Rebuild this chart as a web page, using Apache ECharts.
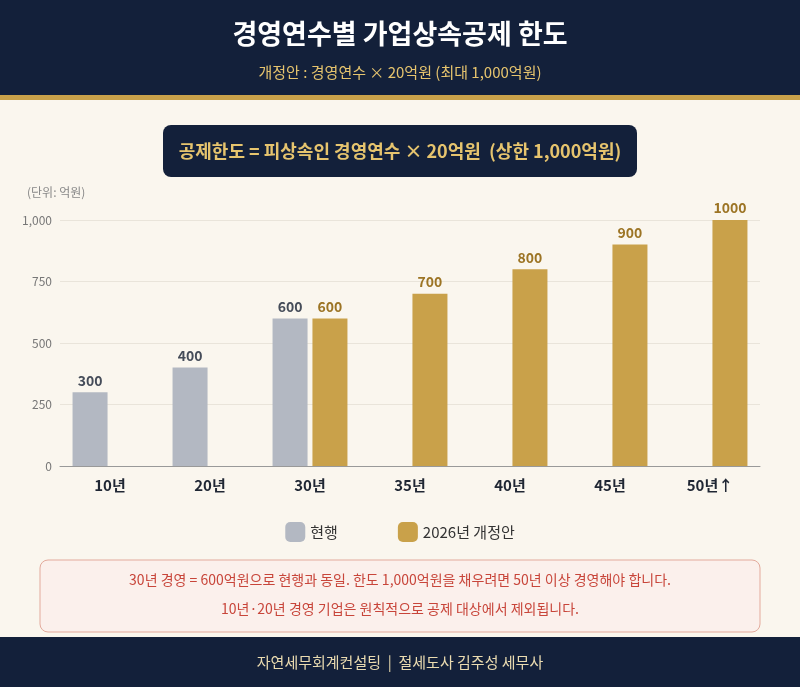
<!DOCTYPE html>
<html><head><meta charset="utf-8">
<script src="https://cdn.jsdelivr.net/npm/echarts@6/dist/echarts.min.js"></script>
<style>html,body{margin:0;padding:0;background:#faf6ee}#c{width:800px;height:687px}</style>
</head><body><div id="c"></div>
<script>
// 경영연수별 공제 한도 (억원)
const categories = ['10년', '20년', '30년', '35년', '40년', '45년', '50년↑'];
const currentValues = [300, 400, 600, null, null, null, null];
const proposalValues = [null, null, 600, 700, 800, 900, 1000];
const yTicks = { min: 0, max: 1000, interval: 250 };

const FONT = '"Noto Sans CJK KR", "Noto Sans", sans-serif';
const navy = '#13203a';
const gold = '#c9a14a';

const chart = echarts.init(document.getElementById('c'));
chart.setOption({
  backgroundColor: '#faf6ee',
  textStyle: { fontFamily: FONT },
  grid: { left: 60, right: 40, top: 220, bottom: 221 },
  legend: {
    top: 517, left: 'center', itemWidth: 20, itemHeight: 20, itemGap: 60,
    textStyle: { fontSize: 15, color: '#333', fontFamily: FONT },
    data: ['현행', '2026년 개정안']
  },
  xAxis: {
    type: 'category', data: categories,
    axisLine: { lineStyle: { color: '#999' } }, axisTick: { show: false },
    axisLabel: { fontSize: 15, fontWeight: 'bold', color: '#1f2633', margin: 12 }
  },
  yAxis: {
    type: 'value', min: yTicks.min, max: yTicks.max, interval: yTicks.interval,
    axisLabel: { fontSize: 12, color: '#777' },
    splitLine: { lineStyle: { color: '#e9e4da' } }
  },
  series: [
    {
      name: '현행', type: 'bar', data: currentValues, barWidth: 35, barGap: '14%',
      itemStyle: { color: '#b3b8c2' },
      label: { show: true, position: 'top', fontSize: 14, fontWeight: 'bold', color: '#454c59' }
    },
    {
      name: '2026년 개정안', type: 'bar', data: proposalValues, barWidth: 35,
      itemStyle: { color: gold },
      label: { show: true, position: 'top', fontSize: 14, fontWeight: 'bold', color: '#9c7424' }
    }
  ],
  graphic: [
    { type: 'rect', shape: { x: 0, y: 0, width: 800, height: 95 }, style: { fill: navy } },
    { type: 'rect', shape: { x: 0, y: 95, width: 800, height: 5 }, style: { fill: gold } },
    { type: 'text', x: 400, y: 34, style: { text: '경영연수별 가업상속공제 한도', fill: '#fff', font: 'bold 27px ' + FONT, textAlign: 'center', textVerticalAlign: 'middle' } },
    { type: 'text', x: 400, y: 72, style: { text: '개정안 : 경영연수 × 20억원 (최대 1,000억원)', fill: '#e6c46e', font: '15px ' + FONT, textAlign: 'center', textVerticalAlign: 'middle' } },
    { type: 'rect', shape: { x: 163, y: 125, width: 474, height: 52, r: 8 }, style: { fill: navy } },
    { type: 'text', x: 400, y: 151, style: { text: '공제한도 = 피상속인 경영연수 × 20억원  (상한 1,000억원)', fill: '#e6c46e', font: 'bold 18px ' + FONT, textAlign: 'center', textVerticalAlign: 'middle' } },
    { type: 'text', x: 27, y: 192, style: { text: '(단위: 억원)', fill: '#888', font: '12px ' + FONT, textVerticalAlign: 'middle' } },
    { type: 'rect', shape: { x: 40, y: 560, width: 720, height: 72, r: 8 }, style: { fill: '#fbf0ec', stroke: '#e3aa9c', lineWidth: 1 } },
    { type: 'text', x: 400, y: 580, style: { text: '30년 경영 = 600억원으로 현행과 동일. 한도 1,000억원을 채우려면 50년 이상 경영해야 합니다.', fill: '#c8453a', font: '14px ' + FONT, textAlign: 'center', textVerticalAlign: 'middle' } },
    { type: 'text', x: 400, y: 609, style: { text: '10년·20년 경영 기업은 원칙적으로 공제 대상에서 제외됩니다.', fill: '#c8453a', font: '14px ' + FONT, textAlign: 'center', textVerticalAlign: 'middle' } },
    { type: 'rect', shape: { x: 0, y: 637, width: 800, height: 50 }, style: { fill: navy } },
    { type: 'text', x: 400, y: 662, style: { text: '자연세무회계컨설팅  |  절세도사 김주성 세무사', fill: '#eadbb0', font: '15px ' + FONT, textAlign: 'center', textVerticalAlign: 'middle' } }
  ]
});
</script></body></html>
